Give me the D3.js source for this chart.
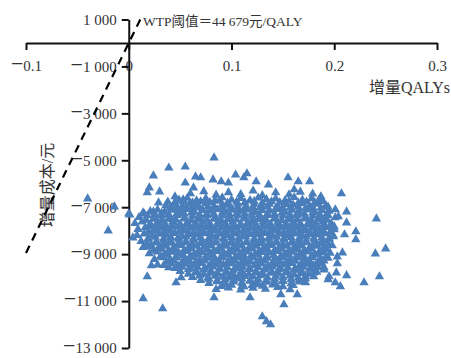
<!DOCTYPE html>
<html>
<head>
<meta charset="utf-8">
<script src="https://cdn.jsdelivr.net/npm/d3@7"></script>
<style>
  body { margin: 0; background: #fff; }
  svg { display: block; }
  text { font-family: "Liberation Serif", "Noto Sans CJK SC", serif; fill: #333; }
</style>
</head>
<body>
<svg id="plane" width="451" height="358"></svg>
<script>
// tick labels
const qalyTicks = [-0.1, 0, 0.1, 0.2, 0.3];
const costTicks = [1000, -1000, -3000, -5000, -7000, -9000, -11000, -13000];

// dashed WTP line as drawn, [qaly, cost]
const wtpLine = [[-0.1, -8950], [0.0112, 1000]];
const wtpText = "WTP阈值＝44 679元/QALY";

// scattered simulations around the cloud, [qaly, cost]
const outerPoints = [
  [-0.040, -6640], [-0.014, -6980], [-0.020, -8000], [0.000, -7280], [0.015, -7280],
  [0.014, -10890], [0.033, -11320], [0.018, -9960], [0.022, -9490], [0.028, -9450],
  [0.039, -9570], [0.046, -10210], [0.051, -10000], [0.004, -8300], [0.019, -8680],
  [0.039, -5320], [0.055, -5280], [0.024, -5660], [0.020, -6170], [0.018, -6380],
  [0.030, -6340], [0.045, -6550], [0.029, -6810], [0.038, -6770], [0.053, -6680],
  [0.001, -7320], [0.014, -7230], [0.024, -7190], [0.065, -5700], [0.083, -4890],
  [0.055, -5960], [0.063, -6170], [0.070, -5740], [0.104, -5620], [0.115, -5570],
  [0.112, -5740], [0.090, -5910], [0.097, -5960], [0.124, -5910], [0.136, -6040],
  [0.155, -5740], [0.161, -6250], [0.082, -5830],
  [0.083, -10850], [0.118, -10850], [0.151, -11150], [0.130, -11660], [0.134, -11870],
  [0.138, -12000], [0.099, -10000], [0.112, -10380], [0.122, -10300], [0.148, -10720],
  [0.164, -10720], [0.092, -10300],
  [0.165, -5910], [0.176, -5910], [0.207, -6420], [0.212, -7190], [0.204, -7400],
  [0.192, -7490], [0.241, -7490], [0.212, -7660], [0.200, -7830], [0.221, -8040],
  [0.210, -8170], [0.221, -8380], [0.250, -8770], [0.240, -8980], [0.199, -8250],
  [0.208, -8940], [0.203, -9110], [0.203, -9400], [0.212, -9910], [0.202, -9790],
  [0.201, -10210], [0.229, -10210], [0.244, -9960], [0.195, -9960], [0.172, -10210],
  [0.190, -9570], [0.206, -10380], [0.194, -10080], [0.187, -6550]
];

// dense centre of the cloud, [qaly, cost]
const corePoints = [
  [0.060,-6420],[0.073,-6330],[0.085,-6480],[0.097,-6370],[0.109,-6450],[0.121,-6300],[0.130,-6500],[0.143,-6380],[0.156,-6460],[0.167,-6350],[0.179,-6430],
  [0.049,-6690],[0.057,-6610],[0.066,-6720],[0.075,-6630],[0.084,-6700],[0.091,-6590],[0.100,-6680],[0.109,-6620],[0.118,-6710],[0.126,-6600],[0.134,-6670],[0.143,-6640],[0.152,-6720],[0.161,-6580],[0.169,-6690],[0.178,-6630],[0.185,-6700],
  [0.045,-6800],[0.053,-6750],[0.062,-6810],[0.070,-6760],[0.079,-6790],[0.088,-6740],[0.096,-6820],[0.105,-6770],[0.113,-6800],[0.122,-6750],[0.130,-6810],[0.139,-6760],[0.147,-6790],[0.156,-6740],[0.165,-6820],[0.173,-6770],[0.181,-6800],[0.189,-6750],
  [0.036,-6930],[0.044,-6860],[0.052,-6950],[0.059,-6870],[0.067,-6920],[0.075,-6840],[0.083,-6960],[0.091,-6880],[0.098,-6910],[0.106,-6850],[0.114,-6940],[0.122,-6870],[0.129,-6930],[0.137,-6860],[0.145,-6950],[0.153,-6880],[0.160,-6900],[0.168,-6840],[0.176,-6960],[0.184,-6870],[0.192,-6930],
  [0.040,-7040],[0.047,-6990],[0.055,-7050],[0.062,-7000],[0.069,-7030],[0.077,-6980],[0.084,-7060],[0.091,-7010],[0.099,-7040],[0.106,-6990],[0.113,-7050],[0.121,-7000],[0.128,-7030],[0.135,-6980],[0.143,-7060],[0.150,-7010],[0.157,-7040],[0.165,-6990],[0.172,-7050],[0.179,-7000],[0.187,-7030],[0.194,-6990],
  [0.021,-7180],[0.028,-7110],[0.035,-7200],[0.043,-7120],[0.050,-7170],[0.057,-7090],[0.064,-7210],[0.072,-7130],[0.079,-7160],[0.086,-7100],[0.094,-7190],[0.101,-7120],[0.108,-7180],[0.115,-7110],[0.123,-7200],[0.130,-7130],[0.137,-7150],[0.145,-7090],[0.152,-7210],[0.159,-7120],[0.166,-7180],[0.174,-7110],[0.181,-7190],[0.188,-7130],[0.195,-7160],[0.201,-7100],
  [0.025,-7300],[0.032,-7250],[0.039,-7310],[0.047,-7260],[0.054,-7290],[0.061,-7240],[0.069,-7320],[0.076,-7270],[0.083,-7300],[0.091,-7250],[0.098,-7310],[0.105,-7260],[0.113,-7290],[0.120,-7240],[0.127,-7320],[0.135,-7270],[0.142,-7300],[0.149,-7250],[0.157,-7310],[0.164,-7260],[0.171,-7290],[0.179,-7240],[0.186,-7320],[0.193,-7270],
  [0.010,-7430],[0.018,-7360],[0.025,-7450],[0.032,-7370],[0.040,-7420],[0.047,-7340],[0.054,-7460],[0.062,-7380],[0.069,-7410],[0.076,-7350],[0.084,-7440],[0.091,-7370],[0.098,-7430],[0.106,-7360],[0.113,-7450],[0.120,-7380],[0.128,-7400],[0.135,-7340],[0.142,-7460],[0.150,-7370],[0.157,-7430],[0.164,-7360],[0.172,-7440],[0.179,-7380],[0.186,-7410],[0.194,-7350],[0.201,-7440],
  [0.017,-7550],[0.024,-7500],[0.032,-7560],[0.039,-7510],[0.046,-7540],[0.054,-7490],[0.061,-7570],[0.068,-7520],[0.076,-7550],[0.083,-7500],[0.090,-7560],[0.098,-7510],[0.105,-7540],[0.112,-7490],[0.120,-7570],[0.127,-7520],[0.134,-7550],[0.142,-7500],[0.149,-7560],[0.156,-7510],[0.164,-7540],[0.171,-7490],[0.178,-7570],[0.186,-7520],[0.193,-7550],
  [0.006,-7690],[0.013,-7620],[0.021,-7710],[0.028,-7630],[0.035,-7680],[0.043,-7600],[0.050,-7720],[0.057,-7640],[0.065,-7670],[0.072,-7610],[0.079,-7700],[0.087,-7630],[0.094,-7690],[0.101,-7620],[0.109,-7710],[0.116,-7640],[0.123,-7660],[0.131,-7600],[0.138,-7720],[0.145,-7630],[0.153,-7690],[0.160,-7620],[0.167,-7700],[0.175,-7640],[0.182,-7670],[0.189,-7610],[0.197,-7700],
  [0.020,-7810],[0.027,-7760],[0.035,-7820],[0.042,-7770],[0.049,-7800],[0.057,-7750],[0.064,-7830],[0.071,-7780],[0.079,-7810],[0.086,-7760],[0.093,-7820],[0.101,-7770],[0.108,-7800],[0.115,-7750],[0.123,-7830],[0.130,-7780],[0.137,-7810],[0.145,-7760],[0.152,-7820],[0.159,-7770],[0.167,-7800],[0.174,-7750],[0.181,-7830],[0.189,-7780],[0.196,-7810],
  [0.009,-7940],[0.016,-7870],[0.024,-7960],[0.031,-7880],[0.038,-7930],[0.046,-7850],[0.053,-7970],[0.060,-7890],[0.068,-7920],[0.075,-7860],[0.082,-7950],[0.090,-7880],[0.097,-7940],[0.104,-7870],[0.112,-7960],[0.119,-7890],[0.126,-7910],[0.134,-7850],[0.141,-7970],[0.148,-7880],[0.156,-7940],[0.163,-7870],[0.170,-7950],[0.178,-7890],[0.185,-7920],[0.192,-7860],[0.200,-7950],
  [0.019,-8060],[0.027,-8010],[0.034,-8070],[0.041,-8020],[0.049,-8050],[0.056,-8000],[0.063,-8080],[0.071,-8030],[0.078,-8060],[0.085,-8010],[0.093,-8070],[0.100,-8020],[0.107,-8050],[0.115,-8000],[0.122,-8080],[0.129,-8030],[0.137,-8060],[0.144,-8010],[0.151,-8070],[0.159,-8020],[0.166,-8050],[0.173,-8000],[0.181,-8080],[0.188,-8030],[0.196,-8060],
  [0.008,-8200],[0.015,-8130],[0.023,-8220],[0.030,-8140],[0.037,-8190],[0.045,-8110],[0.052,-8230],[0.059,-8150],[0.067,-8180],[0.074,-8120],[0.081,-8210],[0.089,-8140],[0.096,-8200],[0.103,-8130],[0.111,-8220],[0.118,-8150],[0.125,-8170],[0.133,-8110],[0.140,-8230],[0.147,-8140],[0.155,-8200],[0.162,-8130],[0.169,-8210],[0.177,-8150],[0.184,-8180],[0.191,-8120],[0.199,-8210],
  [0.019,-8320],[0.026,-8270],[0.034,-8330],[0.041,-8280],[0.048,-8310],[0.056,-8260],[0.063,-8340],[0.070,-8290],[0.078,-8320],[0.085,-8270],[0.092,-8330],[0.100,-8280],[0.107,-8310],[0.114,-8260],[0.122,-8340],[0.129,-8290],[0.136,-8320],[0.144,-8270],[0.151,-8330],[0.158,-8280],[0.166,-8310],[0.173,-8260],[0.180,-8340],[0.188,-8290],[0.195,-8320],
  [0.012,-8450],[0.019,-8380],[0.027,-8470],[0.034,-8390],[0.041,-8440],[0.049,-8360],[0.056,-8480],[0.063,-8400],[0.071,-8430],[0.078,-8370],[0.085,-8460],[0.093,-8390],[0.100,-8450],[0.107,-8380],[0.115,-8470],[0.122,-8400],[0.129,-8420],[0.137,-8360],[0.144,-8480],[0.151,-8390],[0.159,-8450],[0.166,-8380],[0.173,-8460],[0.181,-8400],[0.188,-8430],[0.195,-8370],
  [0.018,-8570],[0.026,-8520],[0.033,-8580],[0.040,-8530],[0.048,-8560],[0.055,-8510],[0.062,-8590],[0.070,-8540],[0.077,-8570],[0.084,-8520],[0.092,-8580],[0.099,-8530],[0.106,-8560],[0.114,-8510],[0.121,-8590],[0.128,-8540],[0.136,-8570],[0.143,-8520],[0.150,-8580],[0.158,-8530],[0.165,-8560],[0.172,-8510],[0.180,-8590],[0.187,-8540],[0.194,-8570],
  [0.014,-8710],[0.022,-8640],[0.029,-8730],[0.036,-8650],[0.044,-8700],[0.051,-8620],[0.058,-8740],[0.066,-8660],[0.073,-8690],[0.080,-8630],[0.088,-8720],[0.095,-8650],[0.102,-8710],[0.110,-8640],[0.117,-8730],[0.124,-8660],[0.132,-8680],[0.139,-8620],[0.146,-8740],[0.154,-8650],[0.161,-8710],[0.168,-8640],[0.176,-8720],[0.183,-8660],[0.190,-8690],[0.198,-8630],
  [0.024,-8830],[0.032,-8780],[0.039,-8840],[0.046,-8790],[0.054,-8820],[0.061,-8770],[0.068,-8850],[0.076,-8800],[0.083,-8830],[0.090,-8780],[0.098,-8840],[0.105,-8790],[0.112,-8820],[0.120,-8770],[0.127,-8850],[0.134,-8800],[0.142,-8830],[0.149,-8780],[0.156,-8840],[0.164,-8790],[0.171,-8820],[0.178,-8770],[0.186,-8850],[0.193,-8800],
  [0.020,-8970],[0.027,-8900],[0.035,-8990],[0.042,-8910],[0.049,-8960],[0.057,-8880],[0.064,-9000],[0.071,-8920],[0.079,-8950],[0.086,-8890],[0.093,-8980],[0.101,-8910],[0.108,-8970],[0.115,-8900],[0.123,-8990],[0.130,-8920],[0.137,-8940],[0.145,-8880],[0.152,-9000],[0.159,-8910],[0.167,-8970],[0.174,-8900],[0.181,-8980],[0.189,-8920],[0.196,-8950],
  [0.031,-9090],[0.038,-9040],[0.046,-9100],[0.053,-9050],[0.060,-9080],[0.068,-9030],[0.075,-9110],[0.082,-9060],[0.090,-9090],[0.097,-9040],[0.104,-9100],[0.112,-9050],[0.119,-9080],[0.126,-9030],[0.134,-9110],[0.141,-9060],[0.148,-9090],[0.156,-9040],[0.163,-9100],[0.170,-9050],[0.178,-9080],[0.185,-9030],[0.192,-9110],
  [0.025,-9220],[0.033,-9150],[0.040,-9240],[0.047,-9160],[0.055,-9210],[0.062,-9130],[0.069,-9250],[0.077,-9170],[0.084,-9200],[0.091,-9140],[0.099,-9230],[0.106,-9160],[0.113,-9220],[0.121,-9150],[0.128,-9240],[0.135,-9170],[0.143,-9190],[0.150,-9130],[0.157,-9250],[0.165,-9160],[0.172,-9220],[0.179,-9150],[0.187,-9230],[0.194,-9170],
  [0.037,-9340],[0.044,-9290],[0.052,-9350],[0.059,-9300],[0.066,-9330],[0.074,-9280],[0.081,-9360],[0.088,-9310],[0.096,-9340],[0.103,-9290],[0.110,-9350],[0.118,-9300],[0.125,-9330],[0.132,-9280],[0.140,-9360],[0.147,-9310],[0.154,-9340],[0.162,-9290],[0.169,-9350],[0.176,-9300],[0.184,-9330],[0.190,-9280],
  [0.034,-9480],[0.041,-9410],[0.048,-9500],[0.056,-9420],[0.063,-9470],[0.070,-9390],[0.078,-9510],[0.085,-9430],[0.092,-9460],[0.100,-9400],[0.107,-9490],[0.114,-9420],[0.122,-9480],[0.129,-9410],[0.136,-9500],[0.144,-9430],[0.151,-9450],[0.158,-9390],[0.166,-9510],[0.173,-9420],[0.180,-9480],[0.188,-9410],
  [0.045,-9600],[0.052,-9550],[0.060,-9610],[0.067,-9560],[0.074,-9590],[0.082,-9540],[0.089,-9620],[0.096,-9570],[0.104,-9600],[0.111,-9550],[0.118,-9610],[0.126,-9560],[0.133,-9590],[0.140,-9540],[0.148,-9620],[0.155,-9570],[0.162,-9600],[0.170,-9550],[0.177,-9610],[0.184,-9560],
  [0.050,-9730],[0.058,-9660],[0.066,-9750],[0.073,-9670],[0.080,-9720],[0.088,-9640],[0.095,-9760],[0.102,-9680],[0.110,-9710],[0.117,-9650],[0.124,-9740],[0.132,-9670],[0.139,-9730],[0.146,-9660],[0.154,-9750],[0.161,-9680],[0.168,-9700],[0.176,-9640],[0.183,-9760],[0.190,-9670],
  [0.058,-9850],[0.065,-9800],[0.073,-9860],[0.080,-9810],[0.087,-9840],[0.095,-9790],[0.102,-9870],[0.109,-9820],[0.117,-9850],[0.124,-9800],[0.131,-9860],[0.139,-9810],[0.146,-9840],[0.153,-9790],[0.161,-9870],[0.168,-9820],[0.175,-9850],[0.180,-9800],
  [0.062,-9990],[0.069,-9920],[0.077,-10010],[0.084,-9930],[0.091,-9980],[0.099,-9900],[0.106,-10020],[0.113,-9940],[0.121,-9970],[0.128,-9910],[0.135,-10000],[0.143,-9930],[0.150,-9990],[0.157,-9920],[0.165,-10010],[0.172,-9940],[0.180,-9960],
  [0.070,-10110],[0.078,-10060],[0.086,-10120],[0.094,-10070],[0.102,-10100],[0.110,-10050],[0.118,-10130],[0.126,-10080],[0.134,-10110],[0.142,-10060],[0.150,-10120],[0.158,-10070],[0.166,-10100],[0.172,-10050],
  [0.078,-10240],[0.086,-10170],[0.094,-10260],[0.102,-10180],[0.110,-10230],[0.118,-10150],[0.126,-10270],[0.134,-10190],[0.142,-10220],[0.150,-10160],[0.158,-10250],[0.166,-10180],
  [0.090,-10370],[0.100,-10320],[0.110,-10380],[0.120,-10330],[0.130,-10360],[0.140,-10310],[0.150,-10380],[0.160,-10330],
  [0.085,-10500],[0.097,-10430],[0.109,-10520],[0.121,-10440],[0.133,-10490],[0.145,-10410],[0.157,-10510]
];

const svg = d3.select("#plane");

const x = d3.scaleLinear().domain([-0.1, 0.3]).range([26, 437]);
const y = d3.scaleLinear().domain([1000, -13000]).range([19.5, 348]);

const fmtQaly = d => String(Math.abs(d));
const fmtCost = d => d3.format(",")(Math.abs(d)).replace(/,/g, " ");

// x axis crosses at cost 0
const xAxis = svg.append("g")
  .attr("transform", "translate(0," + y(0) + ")")
  .call(d3.axisBottom(x).tickValues(qalyTicks).tickFormat(fmtQaly).tickSize(7).tickSizeOuter(0));

// y axis crosses at qaly 0
const yAxis = svg.append("g")
  .attr("transform", "translate(" + x(0) + ",0)")
  .call(d3.axisLeft(y).tickValues(costTicks).tickFormat(fmtCost).tickSize(7).tickPadding(5).tickSizeOuter(0));

[xAxis, yAxis].forEach(g => {
  g.attr("font-family", null).attr("font-size", null);
  g.select(".domain").attr("stroke", "#111").attr("stroke-width", 2);
  g.selectAll(".tick line").attr("stroke", "#111").attr("stroke-width", 2);
  g.selectAll(".tick text")
    .style("font-family", "'Liberation Serif', serif")
    .style("font-size", "15px")
    .each(function(d) {
      // long minus bar as in the original
      if (d < 0) {
        const t = d3.select(this);
        const rest = t.text();
        t.text(null);
        t.append("tspan").style("font-size", "22px").text("−");
        t.append("tspan").text(rest);
      }
    });
});
xAxis.selectAll(".tick text").attr("y", 28).attr("dy", null);

// axis titles
svg.append("text")
  .attr("x", 450)
  .attr("y", 93)
  .attr("text-anchor", "end")
  .style("font-size", "16px")
  .text("增量QALYs");

svg.append("text")
  .attr("transform", "translate(47,185) rotate(-90)")
  .attr("text-anchor", "middle")
  .attr("dominant-baseline", "central")
  .style("font-size", "16px")
  .text("增量成本/元");

// simulations
const tri = d3.symbol(d3.symbolTriangle, 38);
svg.append("g")
  .selectAll("path")
  .data(corePoints.concat(outerPoints))
  .enter()
  .append("path")
  .attr("d", tri)
  .attr("transform", d => "translate(" + x(d[0]) + "," + y(d[1]) + ")")
  .attr("fill", "#4a7ebb");

// WTP threshold line
svg.append("path")
  .datum(wtpLine)
  .attr("d", d3.line().x(d => x(d[0])).y(d => y(d[1])))
  .attr("fill", "none")
  .attr("stroke", "#000")
  .attr("stroke-width", 2.2)
  .attr("stroke-dasharray", "8,6");

svg.append("text")
  .attr("x", 143)
  .attr("y", 26)
  .style("font-size", "13.5px")
  .text(wtpText);
</script>
</body>
</html>
